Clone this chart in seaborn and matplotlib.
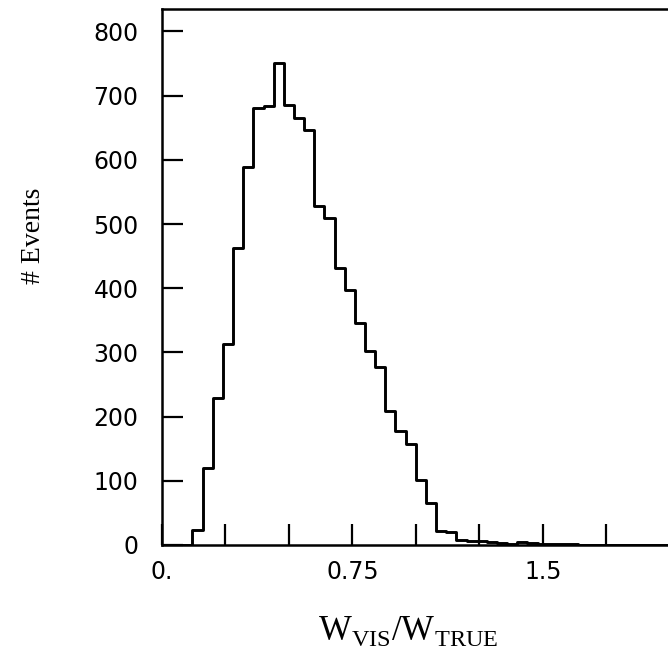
import numpy as np
import pandas as pd
import matplotlib
matplotlib.use("Agg")
import matplotlib.pyplot as plt
import seaborn as sns

# Histogram of visible / true hadronic mass ratio, 0.04-wide bins from 0 to 2.0
bin_lo = 0.0
bin_hi = 2.0
bin_width = 0.04
events = [0, 0, 0, 23, 120, 229, 313, 463, 589, 681,
          684, 751, 685, 665, 647, 528, 510, 432, 397, 346,
          302, 277, 208, 178, 158, 102, 66, 22, 21, 8,
          7, 6, 4, 3, 2, 4, 3, 2, 1, 1,
          1, 0, 0, 0, 0, 0, 0, 0, 0, 0]

x_ticks = [0.0, 0.25, 0.5, 0.75, 1.0, 1.25, 1.5, 1.75]
x_tick_labels = ["0.", "", "", "0.75", "", "", "1.5", ""]
y_ticks = [0, 100, 200, 300, 400, 500, 600, 700, 800]

edges = np.linspace(bin_lo, bin_hi, len(events) + 1)
centers = 0.5 * (edges[:-1] + edges[1:])
df = pd.DataFrame({"ratio": centers, "events": events})

sns.set_style("ticks")
plt.rcParams["font.family"] = ["DejaVu Sans"]
plt.rcParams["mathtext.fontset"] = "custom"
plt.rcParams["mathtext.rm"] = "Liberation Serif"
plt.rcParams["text.color"] = "black"
plt.rcParams["axes.labelcolor"] = "black"

fig = plt.figure(figsize=(6.68, 6.56), dpi=100)
ax = fig.add_axes([162 / 668, 111 / 656, (669.6 - 162) / 668, 536 / 656])

sns.histplot(data=df, x="ratio", weights="events",
             binwidth=bin_width, binrange=(bin_lo, bin_hi),
             element="step", fill=False, color="black", linewidth=2.1,
             ax=ax, legend=False)

ax.set_xlim(bin_lo, bin_hi)
ax.set_ylim(0, 835)

ax.set_xticks(x_ticks)
ax.set_xticklabels(x_tick_labels)
ax.set_yticks(y_ticks)

ax.tick_params(axis="both", direction="in", length=15, width=1.6,
               colors="black", labelcolor="black", labelsize=17)
ax.tick_params(axis="x", pad=11)
ax.tick_params(axis="y", pad=17)

for side in ("left", "bottom", "top"):
    ax.spines[side].set_linewidth(1.8)
    ax.spines[side].set_color("black")
ax.spines["right"].set_visible(False)

ax.set_ylabel("# Events", family="Liberation Serif", fontsize=20,
              va="center", color="black")
ax.yaxis.set_label_coords(-0.254, 0.576)

ax.set_xlabel(r"$\mathrm{W}_{\mathrm{VIS}}/\mathrm{W}_{\mathrm{TRUE}}$",
              fontsize=25, va="center", color="black")
ax.xaxis.set_label_coords(0.485, -0.16)

fig.savefig("out.png", dpi=100, facecolor="white")
